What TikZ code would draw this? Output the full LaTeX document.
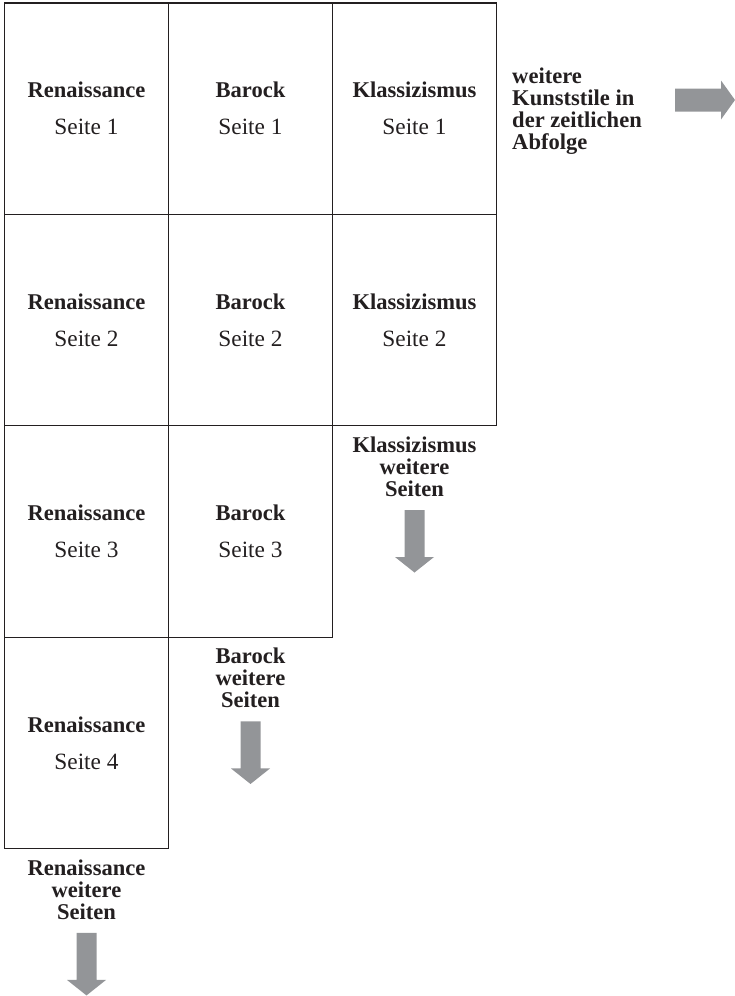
\documentclass[tikz,border=0pt]{standalone}
\usepackage{fontspec}
\setmainfont{Liberation Serif}
\usetikzlibrary{positioning}

\definecolor{inkgray}{HTML}{231F20}
\definecolor{arrowgray}{HTML}{939598}

\newcommand{\stilseite}[2]{\textbf{#1}\\{\fontsize{17.5}{27.75}\selectfont #2}}

\tikzset{
    page/.style={draw=inkgray, line width=0.8pt, minimum width=123pt, minimum height=158.6pt,
        inner sep=0, outer sep=0, align=center, text=inkgray,
        font=\fontsize{16.9}{27.75}\selectfont},
    more/.style={align=center, inner sep=0, text=inkgray,
        font=\fontsize{16.9}{16.5}\selectfont\bfseries},
    downarrow/.pic={\fill[arrowgray] (-10,0) -- (10,0) -- (10,47) -- (19.5,47) -- (0,62.5) -- (-19.5,47) -- (-10,47) -- cycle;},
    rightarrow/.pic={\fill[arrowgray] (0,-11.5) -- (46,-11.5) -- (46,-19.5) -- (60,0) -- (46,19.5) -- (46,11.5) -- (0,11.5) -- cycle;}
}

\begin{document}
\begin{tikzpicture}[x=0.75pt, y=-0.75pt]
    \useasboundingbox (0,0) rectangle (735,996);

    % first pages
    \node[page] (r1) at (86.5,108.75) {\stilseite{Renaissance}{Seite 1}};
    \node[page, right=0pt of r1] (b1) {\stilseite{Barock}{Seite 1}};
    \node[page, right=0pt of b1] (k1) {\stilseite{Klassizismus}{Seite 1}};

    % second pages
    \node[page, below=0pt of r1] (r2) {\stilseite{Renaissance}{Seite 2}};
    \node[page, below=0pt of b1] (b2) {\stilseite{Barock}{Seite 2}};
    \node[page, below=0pt of k1] (k2) {\stilseite{Klassizismus}{Seite 2}};

    % third and fourth pages
    \node[page, below=0pt of r2] (r3) {\stilseite{Renaissance}{Seite 3}};
    \node[page, below=0pt of b2] (b3) {\stilseite{Barock}{Seite 3}};
    \node[page, below=0pt of r3] (r4) {\stilseite{Renaissance}{Seite 4}};

    % further pages
    \node[more, below=8pt of k2] (kmore) {Klassizismus\\weitere\\Seiten};
    \node[more, below=8pt of b3] (bmore) {Barock\\weitere\\Seiten};
    \node[more, below=8pt of r4] (rmore) {Renaissance\\weitere\\Seiten};
    \pic at ([yshift=-9.75pt]kmore.south) {downarrow};
    \pic at ([yshift=-9.75pt]bmore.south) {downarrow};
    \pic at ([yshift=-9.75pt]rmore.south) {downarrow};

    % further styles
    \node[more, align=left, anchor=north west] (later)
        at ([xshift=11.6pt, yshift=-48.4pt]k1.north east) {weitere\\Kunststile in\\der zeitlichen\\Abfolge};
    \coordinate (onward) at (675,100);
    \pic at (onward) {rightarrow};
\end{tikzpicture}
\end{document}
